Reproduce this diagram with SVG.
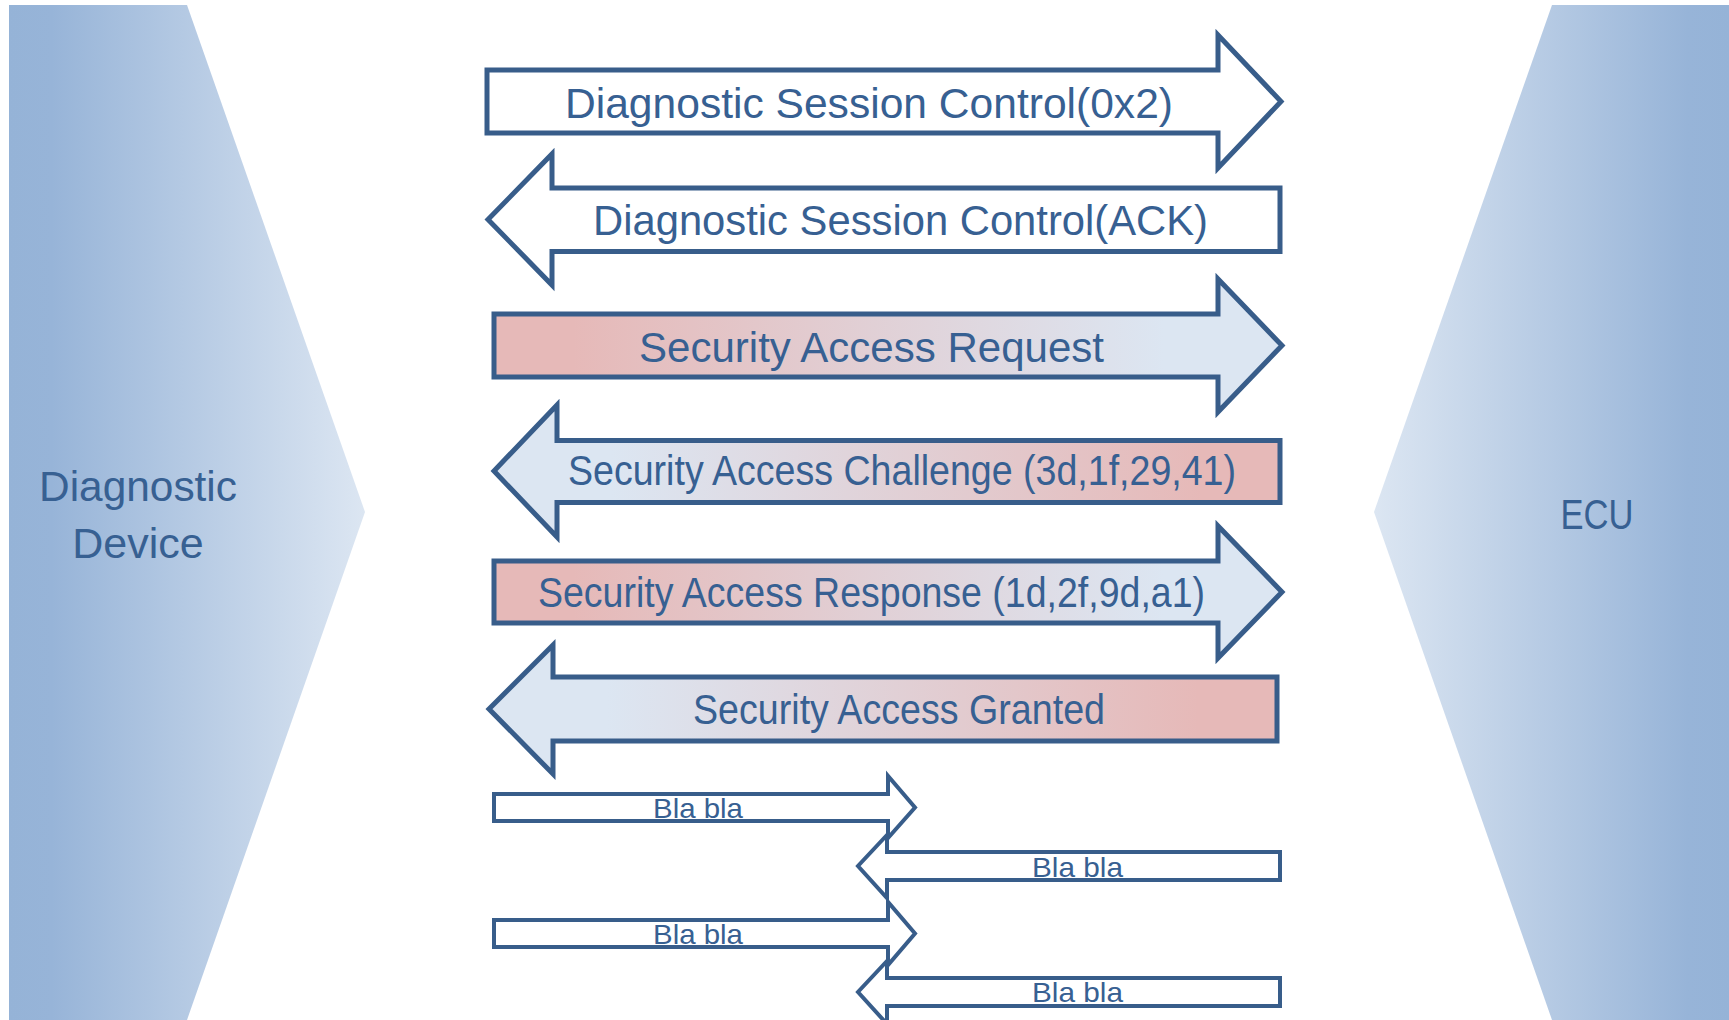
<svg xmlns="http://www.w3.org/2000/svg" width="1729" height="1020" viewBox="0 0 1729 1020">
<defs>
<linearGradient id="gL" x1="9" y1="0" x2="365" y2="0" gradientUnits="userSpaceOnUse">
<stop offset="0" stop-color="#95B3D7"/><stop offset="0.12" stop-color="#97B4D8"/><stop offset="1" stop-color="#DCE6F2"/>
</linearGradient>
<linearGradient id="gR" x1="1374" y1="0" x2="1730" y2="0" gradientUnits="userSpaceOnUse">
<stop offset="0" stop-color="#DCE6F2"/><stop offset="0.88" stop-color="#97B4D8"/><stop offset="1" stop-color="#95B3D7"/>
</linearGradient>
<linearGradient id="gPB" x1="0" y1="0" x2="1" y2="0">
<stop offset="0" stop-color="#E6B9B8"/><stop offset="0.1" stop-color="#E6B9B8"/><stop offset="0.85" stop-color="#DCE6F2"/><stop offset="1" stop-color="#DCE6F2"/>
</linearGradient>
<linearGradient id="gBP" x1="0" y1="0" x2="1" y2="0">
<stop offset="0" stop-color="#DCE6F2"/><stop offset="0.15" stop-color="#DCE6F2"/><stop offset="0.9" stop-color="#E6B9B8"/><stop offset="1" stop-color="#E6B9B8"/>
</linearGradient>
</defs>
<style>
.big{stroke:#385D8A;stroke-width:5;stroke-linejoin:miter}
.small{stroke:#385D8A;stroke-width:4;stroke-linejoin:miter;fill:#FFFFFF}
.lbl{font-family:"Liberation Sans",Arial,sans-serif;font-size:42px;fill:#376092}
.sl{font-family:"Liberation Sans",Arial,sans-serif;font-size:28px;fill:#376092}
.nl{font-family:"Liberation Sans",Arial,sans-serif;font-size:43px;fill:#376092;text-anchor:middle}
</style>
<rect width="1729" height="1020" fill="#FFFFFF"/>
<g id="nodes">
<g id="diagnostic-device">
<polygon points="9,5 187,5 365,512 187,1020 9,1020" fill="url(#gL)"/>
<text class="nl" x="138" y="501" textLength="198" lengthAdjust="spacingAndGlyphs">Diagnostic</text>
<text class="nl" x="138" y="558">Device</text>
</g>
<g id="ecu">
<polygon points="1552,5 1730,5 1730,1020 1552,1020 1374,512" fill="url(#gR)"/>
<text class="nl" x="1597" y="529" textLength="73" lengthAdjust="spacingAndGlyphs">ECU</text>
</g>
</g>
<g id="connectors">
<g id="msg1">
<path class="big" fill="#FFFFFF" d="M487,70 L1218,70 L1218,35 L1281,101.5 L1218,168 L1218,133 L487,133 Z"/>
<text class="lbl" x="565" y="117.5" textLength="608" lengthAdjust="spacingAndGlyphs">Diagnostic Session Control(0x2)</text>
</g>
<g id="msg2">
<path class="big" fill="#FFFFFF" d="M1280,188 L552,188 L552,154 L488,219.5 L552,285 L552,251.5 L1280,251.5 Z"/>
<text class="lbl" x="593" y="234.5" textLength="615" lengthAdjust="spacingAndGlyphs">Diagnostic Session Control(ACK)</text>
</g>
<g id="msg3">
<path class="big" fill="url(#gPB)" d="M494,314 L1218,314 L1218,279 L1282,345.5 L1218,412 L1218,377 L494,377 Z"/>
<text class="lbl" x="639" y="361.5" textLength="465" lengthAdjust="spacingAndGlyphs">Security Access Request</text>
</g>
<g id="msg4">
<path class="big" fill="url(#gBP)" d="M1280,440.5 L557,440.5 L557,405 L494,471 L557,537 L557,502.5 L1280,502.5 Z"/>
<text class="lbl" x="568" y="485" textLength="668" lengthAdjust="spacingAndGlyphs">Security Access Challenge (3d,1f,29,41)</text>
</g>
<g id="msg5">
<path class="big" fill="url(#gPB)" d="M494,561 L1218,561 L1218,526 L1282,592 L1218,658 L1218,623 L494,623 Z"/>
<text class="lbl" x="538" y="607" textLength="667" lengthAdjust="spacingAndGlyphs">Security Access Response (1d,2f,9d,a1)</text>
</g>
<g id="msg6">
<path class="big" fill="url(#gBP)" d="M1277,677 L553,677 L553,645 L489,709 L553,774 L553,741 L1277,741 Z"/>
<text class="lbl" x="693" y="723.5" textLength="412" lengthAdjust="spacingAndGlyphs">Security Access Granted</text>
</g>
<g id="msg7">
<path class="small" d="M494,794 L888,794 L888,776 L915,807.5 L888,838 L888,821 L494,821 Z"/>
<text class="sl" x="653" y="817.5" textLength="90" lengthAdjust="spacingAndGlyphs">Bla bla</text>
</g>
<g id="msg8">
<path class="small" d="M1280,852 L887,852 L887,835 L858,866 L887,898 L887,880 L1280,880 Z"/>
<text class="sl" x="1032" y="877" textLength="91" lengthAdjust="spacingAndGlyphs">Bla bla</text>
</g>
<g id="msg9">
<path class="small" d="M494,920 L888,920 L888,902 L915,933.5 L888,965 L888,947 L494,947 Z"/>
<text class="sl" x="653" y="944" textLength="90" lengthAdjust="spacingAndGlyphs">Bla bla</text>
</g>
<g id="msg10">
<path class="small" d="M1280,978 L887,978 L887,961 L858,992 L887,1024 L887,1006 L1280,1006 Z"/>
<text class="sl" x="1032" y="1002" textLength="91" lengthAdjust="spacingAndGlyphs">Bla bla</text>
</g>
</g>
</svg>
